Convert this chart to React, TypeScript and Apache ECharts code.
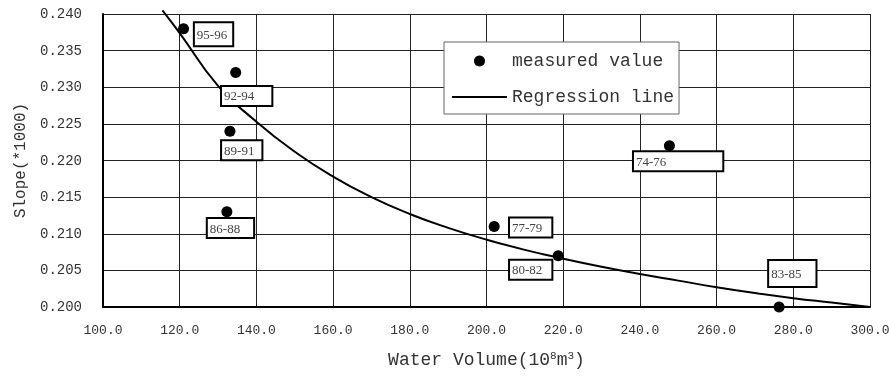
import React, { useEffect, useRef } from "react";
import * as echarts from "echarts";

const measuredX = [121, 134.6, 133.1, 132.3, 202.0, 218.7, 276.3, 247.7];
const measuredY = [0.238, 0.232, 0.224, 0.213, 0.211, 0.207, 0.2, 0.222];
const periodLabels = ["95-96", "92-94", "89-91", "86-88", "77-79", "80-82", "83-85", "74-76"];

const regressionX = [115.5, 120, 130, 140, 150, 160, 170, 180, 190, 200, 210, 220, 230, 240, 250, 260, 270, 280, 290, 300];
const regressionY = [0.2405, 0.2374, 0.2302, 0.2253, 0.2212, 0.2178, 0.215, 0.2127, 0.2108, 0.2092, 0.2078, 0.2066, 0.2055, 0.2045, 0.2036, 0.2027, 0.2019, 0.2012, 0.2006, 0.2];

const xTicks = { min: 100, max: 300, interval: 20 };
const yTicks = { min: 0.2, max: 0.24, interval: 0.005 };

// label box placement (offset from point, padding [t, r, b, l])
const labelStyles = [
  { offset: [30, 5.6], padding: [4, 5, 4, 2] },
  { offset: [11, 23.3], padding: [2, 17, 2, 2] },
  { offset: [11.8, 19], padding: [2, 7, 2, 2] },
  { offset: [3.6, 16.3], padding: [2, 13, 2, 2] },
  { offset: [36.5, 1.1], padding: [2, 9, 2, 2] },
  { offset: [-27.5, 14], padding: [2, 9, 2, 2] },
  { offset: [13.2, -33.6], padding: [2, 14, 9, 2] },
  { offset: [8.7, 15.3], padding: [2, 56, 2, 2] },
];

const MONO = "'Liberation Mono', 'DejaVu Sans Mono', monospace";
const SERIF = "'Liberation Serif', 'DejaVu Serif', serif";

export default function App() {
  const ref = useRef<HTMLDivElement>(null);
  useEffect(() => {
    if (!ref.current) return;
    const chart = echarts.init(ref.current, undefined, { renderer: "svg" });
    const scatterData = measuredX.map((x, i) => ({
      value: [x, measuredY[i]],
      label: {
        show: true,
        formatter: periodLabels[i],
        position: "inside",
        offset: labelStyles[i].offset,
        padding: labelStyles[i].padding,
        backgroundColor: "#fff",
        borderColor: "#000",
        borderWidth: 2,
        color: "#444",
        fontFamily: SERIF,
        fontSize: 13,
        lineHeight: 14,
        opacity: 1,
      },
    }));
    chart.setOption({
      animation: false,
      grid: { left: 103, right: 19, top: 14, bottom: 69, outerBoundsMode: "none" },
      legend: {
        orient: "vertical",
        left: 444,
        top: 42,
        padding: [10, 5, 8, 8],
        itemGap: 18,
        itemWidth: 55,
        itemHeight: 11,
        symbolKeepAspect: true,
        backgroundColor: "#fff",
        borderColor: "#666",
        borderWidth: 1,
        borderRadius: 0,
        textStyle: { fontFamily: MONO, fontSize: 18, color: "#333" },
        data: [
          { name: "measured value" },
          { name: "Regression line", icon: "path://M0,0H55V2H0Z" },
        ],
      },
      xAxis: {
        type: "value",
        min: xTicks.min,
        max: xTicks.max,
        interval: xTicks.interval,
        name: "Water Volume(10{sup|8}m{sup|3})",
        nameLocation: "middle",
        nameGap: 43,
        nameTextStyle: {
          fontFamily: MONO,
          fontSize: 18,
          color: "#333",
          rich: {
            sup: { fontFamily: MONO, fontSize: 11, color: "#333", verticalAlign: "top", padding: [0, 0, 8, 0] },
          },
        },
        axisLine: { show: true, lineStyle: { color: "#000", width: 2 } },
        axisTick: { show: false },
        axisLabel: {
          margin: 17,
          fontFamily: MONO,
          fontSize: 13,
          color: "#333",
          formatter: (v: number) => v.toFixed(1),
        },
        splitLine: { show: true, lineStyle: { color: "#222", width: 1 } },
      },
      yAxis: {
        type: "value",
        min: yTicks.min,
        max: yTicks.max,
        interval: yTicks.interval,
        name: "Slope(*1000)",
        nameLocation: "middle",
        nameGap: 71,
        nameTextStyle: { fontFamily: MONO, fontSize: 16, color: "#333" },
        axisLine: { show: true, lineStyle: { color: "#000", width: 2 } },
        axisTick: { show: false },
        axisLabel: {
          margin: 21,
          fontFamily: MONO,
          fontSize: 14,
          color: "#333",
          formatter: (v: number) => v.toFixed(3),
        },
        splitLine: { show: true, lineStyle: { color: "#222", width: 1 } },
      },
      series: [
        {
          name: "measured value",
          type: "scatter",
          symbol: "circle",
          symbolSize: 11,
          itemStyle: { color: "#000", opacity: 1 },
          data: scatterData,
          z: 3,
        },
        {
          name: "Regression line",
          type: "line",
          smooth: true,
          symbol: "none",
          clip: false,
          lineStyle: { color: "#000", width: 2 },
          itemStyle: { color: "#000" },
          data: regressionX.map((x, i) => [x, regressionY[i]]),
          z: 2,
        },
      ],
    });
    return () => chart.dispose();
  }, []);
  return <div ref={ref} style={{ position: "fixed", left: 0, top: 0, width: 889, height: 376 }} />;
}
